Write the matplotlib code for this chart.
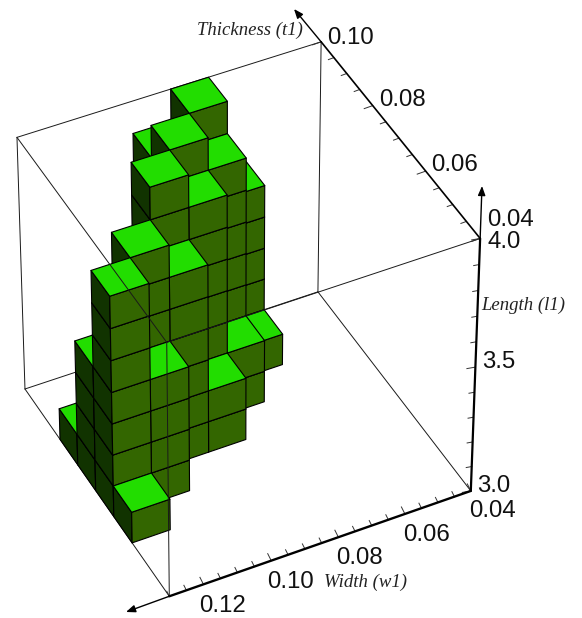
import numpy as np
import matplotlib
matplotlib.use('Agg')
import matplotlib.pyplot as plt
from matplotlib.collections import PolyCollection

plt.rcParams['font.family'] = ['Liberation Sans', 'DejaVu Sans']

# design space, split into 8 cells per axis
t_range = [0.04, 0.10]
w_range = [0.13, 0.04]
l_range = [3.0, 4.0]
n_cells = 8

# occupied columns: thickness cell, width cell (0 = nearest), number of stacked cells
col_t = [2, 3, 4, 5, 3, 4, 4, 5, 4, 5, 6, 7, 5, 6, 7, 7, 6]
col_w = [0, 0, 0, 0, 1, 1, 2, 2, 3, 3, 3, 3, 4, 4, 4, 5, 5]
col_h = [1, 7, 4, 1, 4, 7, 6, 8, 2, 7, 8, 7, 2, 7, 8, 5, 1]

t_major = [0.10, 0.08, 0.06, 0.04]
w_major = [0.12, 0.10, 0.08, 0.06, 0.04]
l_major = [3.0, 3.5, 4.0]

# camera calibration: box corners (cell coords) and where they land on the page
box_corners = np.array([
    [0, 0, 0], [0, 8, 0], [8, 0, 0], [8, 8, 0],
    [0, 0, 8], [0, 8, 8], [8, 0, 8], [8, 8, 8]], dtype=float)
page_corners = np.array([
    [169, 596], [471, 491], [25, 389], [318, 292],
    [167, 343], [480, 238], [17, 137], [321, 42]], dtype=float)


def fit_camera(world, page):
    rows = []
    for (x, y, z), (px, py) in zip(world, page):
        rows.append([x, y, z, 1, 0, 0, 0, 0, -px * x, -px * y, -px * z, -px])
        rows.append([0, 0, 0, 0, x, y, z, 1, -py * x, -py * y, -py * z, -py])
    _, _, vt = np.linalg.svd(np.array(rows))
    return vt[-1].reshape(3, 4)


camera = fit_camera(box_corners, page_corners)


def project(u, v, z):
    p = camera @ np.array([u, v, z, 1.0])
    return p[0] / p[2], p[1] / p[2]


def t_cell(t):
    return (t - t_range[0]) / (t_range[1] - t_range[0]) * n_cells


def w_cell(w):
    return (w - w_range[0]) / (w_range[1] - w_range[0]) * n_cells


def l_cell(l):
    return (l - l_range[0]) / (l_range[1] - l_range[0]) * n_cells


def cube_faces(u, v, k):
    top = [project(u, v, k + 1), project(u + 1, v, k + 1), project(u + 1, v + 1, k + 1), project(u, v + 1, k + 1)]
    front = [project(u, v, k), project(u, v + 1, k), project(u, v + 1, k + 1), project(u, v, k + 1)]
    side = [project(u, v, k), project(u + 1, v, k), project(u + 1, v, k + 1), project(u, v, k + 1)]
    return side, front, top


def edge(ax, a, b, lw=0.7, color='#1a1a1a', zorder=1):
    pa, pb = project(*a), project(*b)
    ax.plot([pa[0], pb[0]], [pa[1], pb[1]], color=color, lw=lw, zorder=zorder, solid_capstyle='round')


def arrow(ax, start, tip):
    ax.annotate('', xy=tip, xytext=start, zorder=6,
                arrowprops=dict(arrowstyle='-|>,head_length=0.55,head_width=0.22', color='black', lw=1.0,
                                shrinkA=0, shrinkB=0))


fig = plt.figure(figsize=(5.82, 6.18), dpi=100)
ax = fig.add_axes([0, 0, 1, 1])
ax.set_xlim(0, 582)
ax.set_ylim(618, 0)
ax.axis('off')

# box edges behind the cubes
for a, b in [((8, 0, 0), (8, 8, 0)), ((8, 8, 0), (0, 8, 0)), ((0, 0, 0), (8, 0, 0)),
             ((8, 0, 0), (8, 0, 8)), ((8, 8, 0), (8, 8, 8)), ((8, 0, 8), (8, 8, 8))]:
    edge(ax, a, b)

# cubes, painted from the far corner to the near corner
columns = sorted(zip(col_t, col_w, col_h), key=lambda c: (-c[0], -c[1]))
polys = []
colors = []
for u, v, h in columns:
    for k in range(h):
        side, front, top = cube_faces(u, v, k)
        polys += [side, front, top]
        colors += ['#113300', '#336600', '#22dd00']
ax.add_collection(PolyCollection(polys, facecolors=colors, edgecolors='black', linewidths=0.8, zorder=2))

# box edges in front of the cubes
for a, b in [((8, 0, 8), (0, 0, 8)), ((0, 0, 8), (0, 8, 8)), ((0, 0, 8), (0, 0, 0))]:
    edge(ax, a, b, zorder=3)

# the three labelled axes
edge(ax, (0, 8, 0), (0, 8, 8), lw=1.6, color='black', zorder=5)
edge(ax, (0, 8, 8), (8, 8, 8), lw=1.2, color='black', zorder=5)
edge(ax, (0, 8, 0), (0, 0, 0), lw=1.7, color='black', zorder=5)
arrow(ax, project(0, 8, 8), (482, 186))
arrow(ax, project(8, 8, 8), (294, 9))
arrow(ax, project(0, 0, 0), (126, 612))

# ticks
for t in np.arange(0.04, 0.1001, 0.005):
    x, y = project(t_cell(t), 8, 8)
    major = any(abs(t - m) < 1e-6 for m in t_major)
    dx, dy = (-8.5, 3) if major else (-5.5, 2)
    ax.plot([x, x + dx], [y, y + dy], color='#333333', lw=0.7, zorder=4)
for w in np.arange(0.04, 0.1301, 0.005):
    x, y = project(0, w_cell(w), 0)
    major = any(abs(w - m) < 1e-6 for m in w_major)
    dx, dy = (-3.5, -7) if major else (-2.5, -5)
    ax.plot([x, x + dx], [y, y + dy], color='#333333', lw=0.7, zorder=4)
for l in np.arange(3.0, 4.001, 0.1):
    x, y = project(0, 8, l_cell(l))
    major = any(abs(l - m) < 1e-6 for m in l_major)
    dx, dy = (-8.5, 1.5) if major else (-5.5, 1)
    ax.plot([x, x + dx], [y, y + dy], color='#333333', lw=0.7, zorder=4)

# tick labels
t_pos = [(350, 38), (402, 100), (455, 165), (510, 220)]
w_pos = [(223, 606), (291, 582), (359, 558), (426, 535), (493, 511)]
l_pos = [(494, 486), (499, 362), (504, 242)]
for val, (x, y) in zip(t_major, t_pos):
    ax.text(x, y, f'{val:.2f}', fontsize=17.3, ha='center', va='center', color='#111111')
for val, (x, y) in zip(w_major, w_pos):
    ax.text(x, y, f'{val:.2f}', fontsize=17.3, ha='center', va='center', color='#111111')
for val, (x, y) in zip(l_major, l_pos):
    ax.text(x, y, f'{val:.1f}', fontsize=17.3, ha='center', va='center', color='#111111')

# axis titles
title_font = dict(family='Liberation Serif', style='italic', ha='center', va='center', color='#222222')
ax.text(250, 30, 'Thickness (t1)', fontsize=13.5, **title_font)
ax.text(366, 582, 'Width (w1)', fontsize=13.5, **title_font)
ax.text(523, 305, 'Length (l1)', fontsize=13.5, **title_font)

fig.savefig('out.png', dpi=100)
